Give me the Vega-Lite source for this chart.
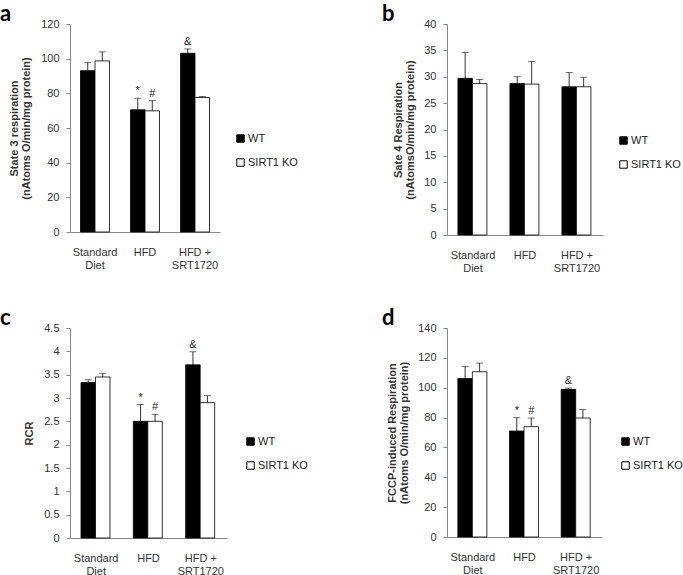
{
  "$schema": "https://vega.github.io/schema/vega-lite/v6.json",
  "background": "white",
  "padding": {"left": 0, "top": 3, "right": 0, "bottom": 0},
  "autosize": {"type": "pad"},
  "config": {
    "view": {"stroke": null},
    "font": "Liberation Sans",
    "axis": {"labelFont": "Liberation Sans", "labelFontSize": 11, "labelColor": "#333", "titleFont": "Liberation Sans", "titleFontSize": 11, "titleFontWeight": "bold", "titleColor": "#333", "titleLineHeight": 12.5, "domainColor": "#888", "tickColor": "#888", "grid": false},
    "legend": {"labelFont": "Liberation Sans", "labelFontSize": 11, "labelColor": "#222", "symbolType": "square", "symbolSize": 55, "symbolStrokeColor": "#000", "symbolStrokeWidth": 1, "rowPadding": 11, "labelOffset": 2},
    "title": {"font": "Lato", "fontSize": 22, "fontWeight": "bold", "color": "#000", "anchor": "start", "frame": "group", "offset": -8}
  },
  "data": {"values": [
    {"panel": "a", "diet": "Standard Diet", "genotype": "WT", "value": 93.1, "err": 97.9},
    {"panel": "a", "diet": "Standard Diet", "genotype": "SIRT1 KO", "value": 98.7, "err": 103.9},
    {"panel": "a", "diet": "HFD", "genotype": "WT", "value": 70.5, "err": 77.2, "sig": "*"},
    {"panel": "a", "diet": "HFD", "genotype": "SIRT1 KO", "value": 69.9, "err": 75.8, "sig": "#"},
    {"panel": "a", "diet": "HFD + SRT1720", "genotype": "WT", "value": 103.1, "err": 105.6, "sig": "&"},
    {"panel": "a", "diet": "HFD + SRT1720", "genotype": "SIRT1 KO", "value": 77.6, "err": 78.1},
    {"panel": "b", "diet": "Standard Diet", "genotype": "WT", "value": 29.7, "err": 34.6},
    {"panel": "b", "diet": "Standard Diet", "genotype": "SIRT1 KO", "value": 28.7, "err": 29.5},
    {"panel": "b", "diet": "HFD", "genotype": "WT", "value": 28.7, "err": 30.0},
    {"panel": "b", "diet": "HFD", "genotype": "SIRT1 KO", "value": 28.6, "err": 32.9},
    {"panel": "b", "diet": "HFD + SRT1720", "genotype": "WT", "value": 28.1, "err": 30.8},
    {"panel": "b", "diet": "HFD + SRT1720", "genotype": "SIRT1 KO", "value": 28.1, "err": 29.9},
    {"panel": "c", "diet": "Standard Diet", "genotype": "WT", "value": 3.33, "err": 3.39},
    {"panel": "c", "diet": "Standard Diet", "genotype": "SIRT1 KO", "value": 3.45, "err": 3.53},
    {"panel": "c", "diet": "HFD", "genotype": "WT", "value": 2.5, "err": 2.86, "sig": "*"},
    {"panel": "c", "diet": "HFD", "genotype": "SIRT1 KO", "value": 2.5, "err": 2.65, "sig": "#"},
    {"panel": "c", "diet": "HFD + SRT1720", "genotype": "WT", "value": 3.71, "err": 3.99, "sig": "&"},
    {"panel": "c", "diet": "HFD + SRT1720", "genotype": "SIRT1 KO", "value": 2.9, "err": 3.05},
    {"panel": "d", "diet": "Standard Diet", "genotype": "WT", "value": 106.1, "err": 114.1},
    {"panel": "d", "diet": "Standard Diet", "genotype": "SIRT1 KO", "value": 110.7, "err": 116.5},
    {"panel": "d", "diet": "HFD", "genotype": "WT", "value": 71.0, "err": 79.9, "sig": "*"},
    {"panel": "d", "diet": "HFD", "genotype": "SIRT1 KO", "value": 73.9, "err": 79.7, "sig": "#"},
    {"panel": "d", "diet": "HFD + SRT1720", "genotype": "WT", "value": 98.9, "err": 99.8, "sig": "&"},
    {"panel": "d", "diet": "HFD + SRT1720", "genotype": "SIRT1 KO", "value": 79.7, "err": 85.3}
  ]},
  "columns": 2,
  "bounds": "flush",
  "spacing": {"row": 93, "column": 220},
  "resolve": {"scale": {"color": "independent", "y": "independent"}, "legend": {"color": "independent"}},
  "concat": [
    {
      "width": 150, "height": 208,
      "title": {"text": "a", "dx": -70},
      "transform": [{"filter": "datum.panel == 'a'"}],
      "encoding": {
        "x": {"field": "diet", "type": "nominal", "sort": ["Standard Diet", "HFD", "HFD + SRT1720"], "title": null, "scale": {"paddingInner": 0.42, "paddingOuter": 0.21}, "axis": {"labelAngle": 0, "ticks": false, "tickSize": 0, "labelPadding": 14, "labelExpr": "datum.label == 'Standard Diet' ? ['Standard', 'Diet'] : datum.label == 'HFD + SRT1720' ? ['HFD +', 'SRT1720'] : datum.label", "labelLineHeight": 13}},
        "xOffset": {"field": "genotype", "type": "nominal", "sort": ["WT", "SIRT1 KO"], "scale": {"paddingInner": 0, "paddingOuter": 0}},
        "y": {"field": "value", "type": "quantitative", "scale": {"domain": [0, 120]}, "title": ["State 3 respiration", "(nAtoms O/min/mg protein)"], "axis": {"values": [0, 20, 40, 60, 80, 100, 120], "tickSize": 4, "labelPadding": 7, "titlePadding": 9}}
      },
      "layer": [
        {"mark": {"type": "bar", "stroke": "#000", "strokeWidth": 0.8},
         "encoding": {
           "color": {"field": "genotype", "type": "nominal", "sort": ["WT", "SIRT1 KO"], "scale": {"range": ["#000000", "#ffffff"]}, "legend": {"title": null, "orient": "none", "legendX": 165, "legendY": 109}}
         }},
        {"mark": {"type": "rule", "color": "#000", "strokeWidth": 0.8}, "encoding": {"y2": {"field": "err"}}},
        {"mark": {"type": "tick", "color": "#000", "size": 7, "thickness": 0.8}, "encoding": {"y": {"field": "err", "type": "quantitative", "title": ["State 3 respiration", "(nAtoms O/min/mg protein)"], "axis": {"values": [0, 20, 40, 60, 80, 100, 120], "tickSize": 4, "labelPadding": 7, "titlePadding": 9}}}},
        {"transform": [{"filter": "datum.sig"}], "mark": {"type": "text", "fontSize": 11, "baseline": "bottom", "dy": -2, "color": "#222"}, "encoding": {"y": {"field": "err", "type": "quantitative", "title": ["State 3 respiration", "(nAtoms O/min/mg protein)"], "axis": {"values": [0, 20, 40, 60, 80, 100, 120], "tickSize": 4, "labelPadding": 7, "titlePadding": 9}}, "text": {"field": "sig"}}}
      ]
    },
    {
      "width": 156, "height": 211,
      "title": {"text": "b", "dx": -65},
      "transform": [{"filter": "datum.panel == 'b'"}],
      "encoding": {
        "x": {"field": "diet", "type": "nominal", "sort": ["Standard Diet", "HFD", "HFD + SRT1720"], "title": null, "scale": {"paddingInner": 0.42, "paddingOuter": 0.21}, "axis": {"labelAngle": 0, "ticks": false, "tickSize": 0, "labelPadding": 14, "labelExpr": "datum.label == 'Standard Diet' ? ['Standard', 'Diet'] : datum.label == 'HFD + SRT1720' ? ['HFD +', 'SRT1720'] : datum.label", "labelLineHeight": 13}},
        "xOffset": {"field": "genotype", "type": "nominal", "sort": ["WT", "SIRT1 KO"], "scale": {"paddingInner": 0, "paddingOuter": 0}},
        "y": {"field": "value", "type": "quantitative", "scale": {"domain": [0, 40]}, "title": ["Sate 4 Respiration", "(nAtomsO/min/mg protein)"], "axis": {"values": [0, 5, 10, 15, 20, 25, 30, 35, 40], "tickSize": 4, "labelPadding": 7, "titlePadding": 8}}
      },
      "layer": [
        {"mark": {"type": "bar", "stroke": "#000", "strokeWidth": 0.8},
         "encoding": {
           "color": {"field": "genotype", "type": "nominal", "sort": ["WT", "SIRT1 KO"], "scale": {"range": ["#000000", "#ffffff"]}, "legend": {"title": null, "orient": "none", "legendX": 171, "legendY": 111}}
         }},
        {"mark": {"type": "rule", "color": "#000", "strokeWidth": 0.8}, "encoding": {"y2": {"field": "err"}}},
        {"mark": {"type": "tick", "color": "#000", "size": 7, "thickness": 0.8}, "encoding": {"y": {"field": "err", "type": "quantitative", "title": ["Sate 4 Respiration", "(nAtomsO/min/mg protein)"], "axis": {"values": [0, 5, 10, 15, 20, 25, 30, 35, 40], "tickSize": 4, "labelPadding": 7, "titlePadding": 8}}}}
      ]
    },
    {
      "width": 157, "height": 210,
      "title": {"text": "c", "dx": -70},
      "transform": [{"filter": "datum.panel == 'c'"}],
      "encoding": {
        "x": {"field": "diet", "type": "nominal", "sort": ["Standard Diet", "HFD", "HFD + SRT1720"], "title": null, "scale": {"paddingInner": 0.42, "paddingOuter": 0.21}, "axis": {"labelAngle": 0, "ticks": false, "tickSize": 0, "labelPadding": 14, "labelExpr": "datum.label == 'Standard Diet' ? ['Standard', 'Diet'] : datum.label == 'HFD + SRT1720' ? ['HFD +', 'SRT1720'] : datum.label", "labelLineHeight": 13}},
        "xOffset": {"field": "genotype", "type": "nominal", "sort": ["WT", "SIRT1 KO"], "scale": {"paddingInner": 0, "paddingOuter": 0}},
        "y": {"field": "value", "type": "quantitative", "scale": {"domain": [0, 4.5]}, "title": "RCR", "axis": {"values": [0, 0.5, 1, 1.5, 2, 2.5, 3, 3.5, 4, 4.5], "format": "~g", "tickSize": 4, "labelPadding": 7, "titlePadding": 9}}
      },
      "layer": [
        {"mark": {"type": "bar", "stroke": "#000", "strokeWidth": 0.8},
         "encoding": {
           "color": {"field": "genotype", "type": "nominal", "sort": ["WT", "SIRT1 KO"], "scale": {"range": ["#000000", "#ffffff"]}, "legend": {"title": null, "orient": "none", "legendX": 175, "legendY": 108}}
         }},
        {"mark": {"type": "rule", "color": "#000", "strokeWidth": 0.8}, "encoding": {"y2": {"field": "err"}}},
        {"mark": {"type": "tick", "color": "#000", "size": 7, "thickness": 0.8}, "encoding": {"y": {"field": "err", "type": "quantitative", "title": "RCR", "axis": {"values": [0, 0.5, 1, 1.5, 2, 2.5, 3, 3.5, 4, 4.5], "format": "~g", "tickSize": 4, "labelPadding": 7, "titlePadding": 9}}}},
        {"transform": [{"filter": "datum.sig"}], "mark": {"type": "text", "fontSize": 11, "baseline": "bottom", "dy": -2, "color": "#222"}, "encoding": {"y": {"field": "err", "type": "quantitative", "title": "RCR", "axis": {"values": [0, 0.5, 1, 1.5, 2, 2.5, 3, 3.5, 4, 4.5], "format": "~g", "tickSize": 4, "labelPadding": 7, "titlePadding": 9}}, "text": {"field": "sig"}}}
      ]
    },
    {
      "width": 155, "height": 209,
      "title": {"text": "d", "dx": -65},
      "transform": [{"filter": "datum.panel == 'd'"}],
      "encoding": {
        "x": {"field": "diet", "type": "nominal", "sort": ["Standard Diet", "HFD", "HFD + SRT1720"], "title": null, "scale": {"paddingInner": 0.42, "paddingOuter": 0.21}, "axis": {"labelAngle": 0, "ticks": false, "tickSize": 0, "labelPadding": 14, "labelExpr": "datum.label == 'Standard Diet' ? ['Standard', 'Diet'] : datum.label == 'HFD + SRT1720' ? ['HFD +', 'SRT1720'] : datum.label", "labelLineHeight": 13}},
        "xOffset": {"field": "genotype", "type": "nominal", "sort": ["WT", "SIRT1 KO"], "scale": {"paddingInner": 0, "paddingOuter": 0}},
        "y": {"field": "value", "type": "quantitative", "scale": {"domain": [0, 140]}, "title": ["FCCP-induced Respiration", "(nAtoms O/min/mg protein)"], "axis": {"values": [0, 20, 40, 60, 80, 100, 120, 140], "tickSize": 4, "labelPadding": 7, "titlePadding": 8}}
      },
      "layer": [
        {"mark": {"type": "bar", "stroke": "#000", "strokeWidth": 0.8},
         "encoding": {
           "color": {"field": "genotype", "type": "nominal", "sort": ["WT", "SIRT1 KO"], "scale": {"range": ["#000000", "#ffffff"]}, "legend": {"title": null, "orient": "none", "legendX": 173, "legendY": 108}}
         }},
        {"mark": {"type": "rule", "color": "#000", "strokeWidth": 0.8}, "encoding": {"y2": {"field": "err"}}},
        {"mark": {"type": "tick", "color": "#000", "size": 7, "thickness": 0.8}, "encoding": {"y": {"field": "err", "type": "quantitative", "title": ["FCCP-induced Respiration", "(nAtoms O/min/mg protein)"], "axis": {"values": [0, 20, 40, 60, 80, 100, 120, 140], "tickSize": 4, "labelPadding": 7, "titlePadding": 8}}}},
        {"transform": [{"filter": "datum.sig"}], "mark": {"type": "text", "fontSize": 11, "baseline": "bottom", "dy": -2, "color": "#222"}, "encoding": {"y": {"field": "err", "type": "quantitative", "title": ["FCCP-induced Respiration", "(nAtoms O/min/mg protein)"], "axis": {"values": [0, 20, 40, 60, 80, 100, 120, 140], "tickSize": 4, "labelPadding": 7, "titlePadding": 8}}, "text": {"field": "sig"}}}
      ]
    }
  ]
}
